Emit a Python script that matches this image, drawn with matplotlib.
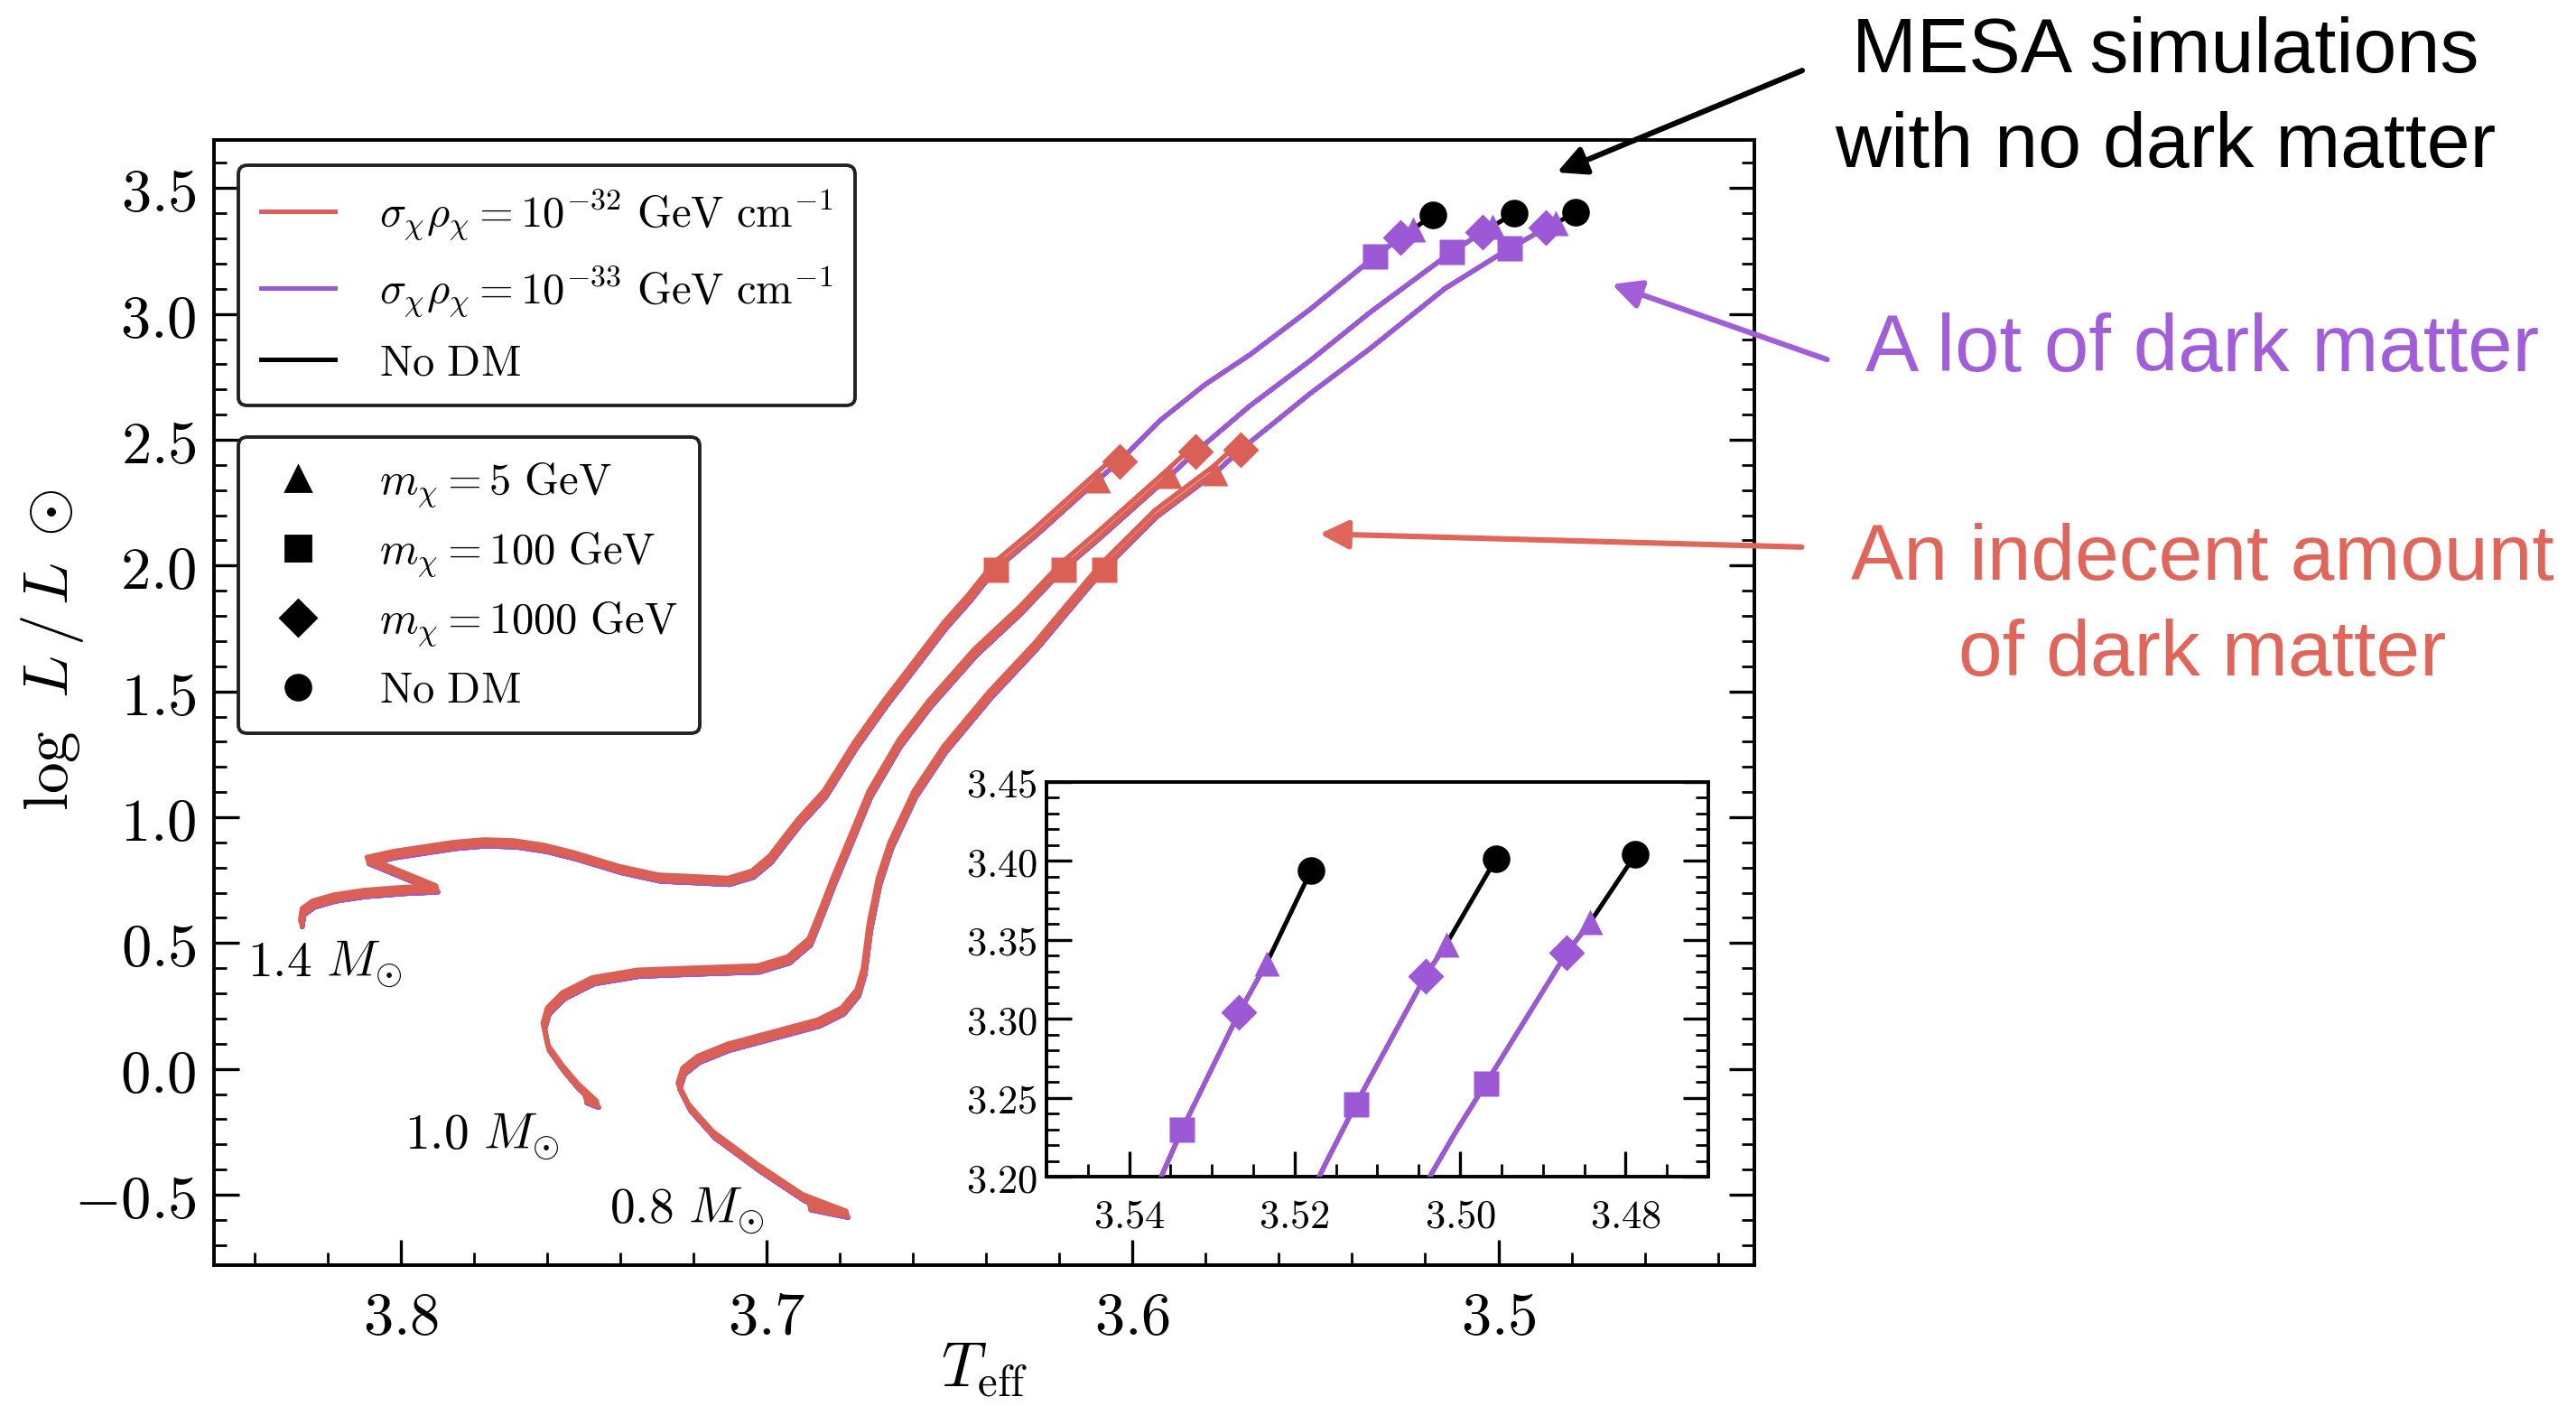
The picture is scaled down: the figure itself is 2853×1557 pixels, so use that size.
import numpy as np
import matplotlib.pyplot as plt
from matplotlib.lines import Line2D
from matplotlib.patches import FancyArrowPatch
from matplotlib.ticker import MultipleLocator, FormatStrFormatter
from matplotlib.transforms import offset_copy

plt.rcParams['mathtext.fontset'] = 'cm'

RED = '#da6056'
PURPLE = '#9d58d6'

# tracks: log Teff, log L (ZAMS first, No-DM end last)
t14 = [3.8269, 3.8264, 3.8235, 3.8177, 3.8095, 3.7988, 3.7898, 3.8087, 3.8013, 3.7931,
       3.7849, 3.7767, 3.7684, 3.7602, 3.7520, 3.7397, 3.7290, 3.7183, 3.7101, 3.7035,
       3.6986, 3.6945, 3.6906, 3.6838, 3.6756, 3.6674, 3.6592, 3.6510, 3.6444, 3.6374,
       3.6263, 3.6095, 3.6035, 3.5926, 3.5802, 3.5679, 3.5515, 3.5336, 3.5267, 3.5234,
       3.5180]
l14 = [0.564, 0.612, 0.642, 0.666, 0.684, 0.696, 0.702, 0.815, 0.839, 0.857,
       0.875, 0.885, 0.881, 0.863, 0.833, 0.779, 0.745, 0.738, 0.732, 0.761,
       0.821, 0.899, 0.971, 1.079, 1.270, 1.438, 1.593, 1.749, 1.857, 1.985,
       2.120, 2.340, 2.415, 2.575, 2.719, 2.838, 3.018, 3.230, 3.304, 3.335,
       3.394]

t10 = [3.7491, 3.7459, 3.7512, 3.7553, 3.7594, 3.7606, 3.7594, 3.7553, 3.7471, 3.7348,
       3.7183, 3.7019, 3.6937, 3.6879, 3.6846, 3.6814, 3.6773, 3.6715, 3.6633, 3.6551,
       3.6427, 3.6304, 3.6189, 3.6099, 3.5899, 3.5827, 3.5679, 3.5515, 3.5351, 3.5162,
       3.5126, 3.5042, 3.5017, 3.4957]
l10 = [-0.136, -0.154, -0.082, -0.011, 0.073, 0.157, 0.217, 0.277, 0.337, 0.367,
       0.376, 0.384, 0.420, 0.492, 0.612, 0.732, 0.875, 1.079, 1.282, 1.438,
       1.642, 1.809, 1.985, 2.096, 2.355, 2.452, 2.635, 2.814, 3.006, 3.209,
       3.246, 3.327, 3.347, 3.401]

t08 = [3.6879, 3.6777, 3.6896, 3.7019, 3.7142, 3.7208, 3.7237, 3.7224, 3.7183, 3.7101,
       3.6978, 3.6855, 3.6789, 3.6748, 3.6731, 3.6715, 3.6690, 3.6658, 3.6592, 3.6510,
       3.6386, 3.6263, 3.6078, 3.5935, 3.5774, 3.5704, 3.5515, 3.5351, 3.5146, 3.5007,
       3.4969, 3.4871, 3.4843, 3.4788]
l08 = [-0.561, -0.591, -0.525, -0.406, -0.274, -0.166, -0.082, -0.022, 0.025, 0.073,
       0.121, 0.169, 0.217, 0.289, 0.373, 0.552, 0.732, 0.875, 1.079, 1.258,
       1.474, 1.665, 1.985, 2.192, 2.368, 2.461, 2.683, 2.862, 3.101, 3.227,
       3.259, 3.342, 3.361, 3.404]

track_T = [t14, t10, t08]
track_L = [l14, l10, l08]
mass_labels = [r'$1.4\ M_{\odot}$', r'$1.0\ M_{\odot}$', r'$0.8\ M_{\odot}$']
label_T = [3.842, 3.799, 3.743]
label_L = [0.415, -0.271, -0.565]

# where the DM runs end, per mass, order m_chi = 5, 100, 1000 GeV
dm_masses = ['5', '100', '1000']
dm_markers = ['^', 's', 'D']
red_end_T = [[3.6095, 3.6374, 3.6035], [3.5899, 3.6189, 3.5827], [3.5774, 3.6078, 3.5704]]
red_end_L = [[2.340, 1.985, 2.415], [2.355, 1.985, 2.452], [2.368, 1.985, 2.461]]
pur_end_T = [[3.5234, 3.5336, 3.5267], [3.5017, 3.5126, 3.5042], [3.4843, 3.4969, 3.4871]]
pur_end_L = [[3.335, 3.230, 3.304], [3.347, 3.246, 3.327], [3.361, 3.259, 3.342]]


def cut_track(T, L, te, le):
    T = np.asarray(T)
    L = np.asarray(L)
    k = np.where(L < le)[0].max()
    return np.append(T[:k + 1], te), np.append(L[:k + 1], le)


def draw_tracks(ax, ms=10):
    kw = dict(solid_joinstyle='round', solid_capstyle='round')
    for i in range(3):
        ax.plot(track_T[i], track_L[i], color='black', lw=1.8, zorder=2, **kw)
    for i in range(3):
        for j in range(3):
            x, y = cut_track(track_T[i], track_L[i], pur_end_T[i][j], pur_end_L[i][j])
            ax.plot(x, y, color=PURPLE, lw=1.8, zorder=3, **kw)
    # the three red runs lie just above each other: small upward shift
    shifts = [0.5, 1.6, 2.6]
    for i in range(3):
        for j in range(3):
            x, y = cut_track(track_T[i], track_L[i], red_end_T[i][j], red_end_L[i][j])
            tr = offset_copy(ax.transData, fig=ax.figure, x=-shifts[j] * 0.3,
                             y=shifts[j], units='points')
            ax.plot(x, y, color=RED, lw=1.9, zorder=4 + j * 0.1, transform=tr, **kw)
    for ends_T, ends_L, col in [(red_end_T, red_end_L, RED), (pur_end_T, pur_end_L, PURPLE)]:
        for i in range(3):
            for j in range(3):
                ax.plot(ends_T[i][j], ends_L[i][j], marker=dm_markers[j], ms=ms,
                        color=col, mec='none', ls='none', zorder=6)
    for i in range(3):
        ax.plot(track_T[i][-1], track_L[i][-1], 'o', ms=ms, color='black', zorder=6)


def style_ticks(ax, labelsize):
    ax.tick_params(which='both', direction='in', top=False, right=True, labelsize=labelsize)
    ax.tick_params(which='major', length=10, width=1.2)
    ax.tick_params(which='minor', length=5, width=1.0)
    for s in ax.spines.values():
        s.set_linewidth(1.4)


fig = plt.figure(figsize=(14.265, 7.785), dpi=200)
ax = fig.add_axes([0.0831, 0.1002, 0.598, 0.800])
draw_tracks(ax)
ax.set_xlim(3.851, 3.430)
ax.set_ylim(-0.78, 3.69)
ax.xaxis.set_major_locator(MultipleLocator(0.1))
ax.xaxis.set_minor_locator(MultipleLocator(0.02))
ax.yaxis.set_major_locator(MultipleLocator(0.5))
ax.yaxis.set_minor_locator(MultipleLocator(0.1))
ax.xaxis.set_major_formatter(FormatStrFormatter(r'$%.1f$'))
ax.yaxis.set_major_formatter(FormatStrFormatter(r'$%.1f$'))
style_ticks(ax, 24)
ax.tick_params(axis='x', pad=9)
ax.tick_params(axis='y', pad=7)
ax.set_xlabel(r'$T_{\rm eff}$', fontsize=25)
ax.set_ylabel(r'$\log\;\, L\,/\,L\;\odot$', fontsize=25)
ax.xaxis.set_label_coords(0.5, -0.066)
ax.yaxis.set_label_coords(-0.083, 0.547)

for i in range(3):
    ax.text(label_T[i], label_L[i], mass_labels[i], fontsize=20, ha='left', va='center')

leg_kw = dict(loc='upper left', fontsize=17.5, frameon=True, fancybox=True, framealpha=1,
              edgecolor='#222222', handlelength=1.7, handletextpad=1.0, borderaxespad=0,
              labelspacing=0.5, borderpad=0.5)
h1 = [Line2D([], [], color=RED, lw=1.8), Line2D([], [], color=PURPLE, lw=1.8),
      Line2D([], [], color='black', lw=1.8)]
lab1 = [r'$\sigma_\chi \rho_\chi = 10^{-32}\ \mathrm{GeV\ cm^{-1}}$',
        r'$\sigma_\chi \rho_\chi = 10^{-33}\ \mathrm{GeV\ cm^{-1}}$',
        r'$\mathrm{No\ DM}$']
leg1 = ax.legend(h1, lab1, bbox_to_anchor=(0.016, 0.978), **leg_kw)
leg1.get_frame().set_linewidth(1.4)
ax.add_artist(leg1)

h2 = [Line2D([], [], color='black', marker=m, ms=10, ls='none') for m in dm_markers]
h2.append(Line2D([], [], color='black', marker='o', ms=10, ls='none'))
lab2 = [r'$m_\chi = %s\ \mathrm{GeV}$' % m for m in dm_masses] + [r'$\mathrm{No\ DM}$']
leg_kw['labelspacing'] = 0.45
leg2 = ax.legend(h2, lab2, bbox_to_anchor=(0.016, 0.736), **leg_kw)
leg2.get_frame().set_linewidth(1.4)

# inset zoom on the tips
axin = fig.add_axes([0.4062, 0.163, 0.257, 0.281])
draw_tracks(axin)
axin.set_xlim(3.55, 3.47)
axin.set_ylim(3.20, 3.45)
axin.xaxis.set_major_locator(MultipleLocator(0.02))
axin.xaxis.set_minor_locator(MultipleLocator(0.005))
axin.yaxis.set_major_locator(MultipleLocator(0.05))
axin.yaxis.set_minor_locator(MultipleLocator(0.01))
axin.xaxis.set_major_formatter(FormatStrFormatter(r'$%.2f$'))
axin.yaxis.set_major_formatter(FormatStrFormatter(r'$%.2f$'))
style_ticks(axin, 16)
axin.tick_params(axis='x', pad=8)

# annotations outside the plot
sans = ['Liberation Sans', 'DejaVu Sans']
fig.text(0.8405, 0.929, 'MESA simulations\nwith no dark matter', ha='center', va='center',
         fontsize=31, family=sans, color='black', linespacing=1.4)
fig.text(0.855, 0.751, 'A lot of dark matter', ha='center', va='center',
         fontsize=32, family=sans, color='#a25ed9')
fig.text(0.855, 0.568, 'An indecent amount\nof dark matter', ha='center', va='center',
         fontsize=31.5, family=sans, color='#e0665b', linespacing=1.4)

for tail, head, col in [((0.7014, 0.9512), (0.6026, 0.876), 'black'),
                        ((0.7111, 0.7431), (0.6239, 0.799), '#a25ed9'),
                        ((0.7014, 0.6108), (0.5103, 0.6204), '#e0665b')]:
    fig.add_artist(FancyArrowPatch(tail, head, transform=fig.transFigure,
                                   arrowstyle='-|>', mutation_scale=24, lw=2.2,
                                   color=col))

fig.savefig('out.png', dpi=200)
